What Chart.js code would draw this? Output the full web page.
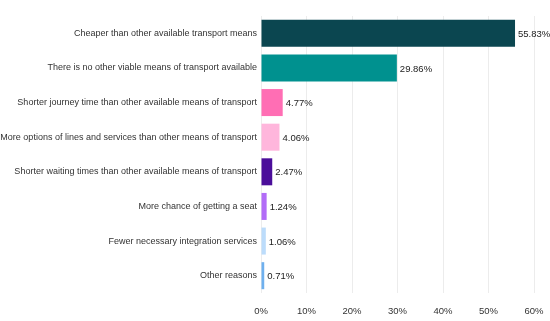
<!DOCTYPE html>
<html>
<head>
<meta charset="utf-8">
<script src="https://cdn.jsdelivr.net/npm/chart.js@4"></script>
<style>
  html, body { margin: 0; padding: 0; background: #fff; }
  #wrap { width: 550px; height: 321px; }
</style>
</head>
<body>
<div id="wrap"><canvas id="chart"></canvas></div>
<script>
// Reasons for choosing this transport
const reasons = [
    'Cheaper than other available transport means',
    'There is no other viable means of transport available',
    'Shorter journey time than other available means of transport',
    'More options of lines and services than other means of transport',
    'Shorter waiting times than other available means of transport',
    'More chance of getting a seat',
    'Fewer necessary integration services',
    'Other reasons'
];
const shares = [55.83, 29.86, 4.77, 4.06, 2.47, 1.24, 1.06, 0.71];
const barColors = ['#0b4650', '#00918f', '#ff6eb4', '#ffb6dc', '#4b0e9a', '#b26cf7', '#bcdcfb', '#6fb0ee'];
const xTicks = [0, 10, 20, 30, 40, 50, 60];

const FONT = '"Liberation Sans", Arial, sans-serif';

// value labels at the end of each bar
const valueLabels = {
    id: 'valueLabels',
    afterDatasetsDraw(chart) {
        const ctx = chart.ctx;
        const meta = chart.getDatasetMeta(0);
        ctx.save();
        ctx.font = '9.5px ' + FONT;
        ctx.fillStyle = '#222';
        ctx.textAlign = 'left';
        ctx.textBaseline = 'middle';
        meta.data.forEach((bar, i) => {
            ctx.fillText(shares[i].toFixed(2) + '%', bar.x + 3, bar.y + 1);
        });
        ctx.restore();
    }
};

new Chart(document.getElementById('chart'), {
    type: 'bar',
    data: {
        labels: reasons,
        datasets: [{
            data: shares,
            backgroundColor: barColors,
            barPercentage: 0.78,
            categoryPercentage: 1
        }]
    },
    options: {
        indexAxis: 'y',
        responsive: true,
        maintainAspectRatio: false,
        animation: false,
        layout: { padding: { top: 16, right: 16, bottom: 1, left: 0 } },
        plugins: {
            legend: { display: false },
            tooltip: { enabled: false }
        },
        scales: {
            x: {
                min: 0,
                max: 60,
                afterBuildTicks: axis => { axis.ticks = xTicks.map(v => ({ value: v })); },
                afterFit: axis => {
                    axis.height = 27;
                    axis.paddingLeft = 0;
                    axis.paddingRight = 0;
                },
                grid: { color: '#ececec', drawTicks: false },
                border: { display: false },
                ticks: {
                    padding: 13,
                    color: '#333',
                    font: { family: FONT, size: 9.5 },
                    callback: v => v + '%'
                }
            },
            y: {
                grid: { display: false, drawTicks: false },
                border: { display: false },
                afterFit: axis => { axis.width = 261; },
                ticks: {
                    padding: 4,
                    color: '#333',
                    font: { family: FONT, size: 9 }
                }
            }
        }
    },
    plugins: [valueLabels]
});
</script>
</body>
</html>
